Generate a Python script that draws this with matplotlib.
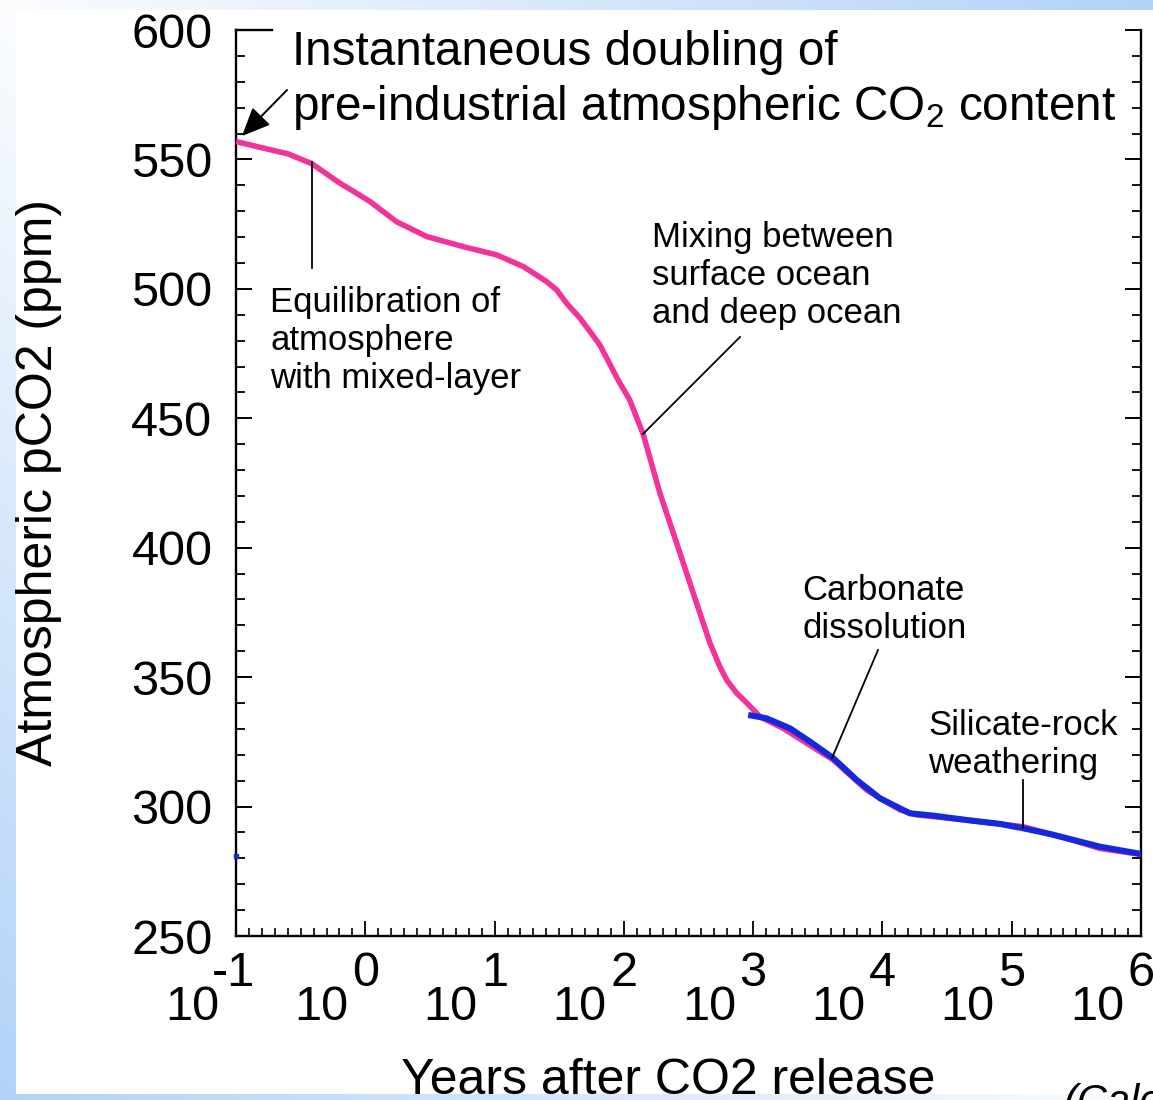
import numpy as np
import matplotlib
matplotlib.use('Agg')
import matplotlib.pyplot as plt
from matplotlib.lines import Line2D
from matplotlib.patches import FancyArrowPatch
from matplotlib.ticker import FixedLocator, NullFormatter, MultipleLocator

plt.rcParams['font.family'] = ['Liberation Sans', 'DejaVu Sans']
plt.rcParams['mathtext.fontset'] = 'custom'
plt.rcParams['mathtext.rm'] = 'Liberation Sans'
plt.rcParams['mathtext.it'] = 'Liberation Sans:italic'

# ---------------- data ----------------
pink_years = [0.1, 0.153, 0.254, 0.385, 0.637, 0.859, 1.09, 1.38, 1.75, 2.99,
              5.73, 10.4, 16.7, 25.3, 30.2, 36.1, 45.8, 65.3, 90.2, 111,
              141, 190, 256, 344, 463, 553, 624, 746, 891, 1130,
              1710, 4170, 7550, 10200, 13700, 18400, 44900, 123000, 266000, 482000,
              1000000]
pink_ppm = [556.9, 554.7, 552.1, 548.4, 540.8, 536.9, 533.7, 529.8, 525.9, 520.2,
            516.3, 513.1, 508.6, 502.8, 499.6, 494.4, 488.7, 478.3, 464.8, 457.1,
            443.9, 421.1, 401.8, 382.5, 363.2, 354.0, 348.9, 343.8, 340.1, 334.7,
            330.2, 318.0, 306.4, 302.5, 298.7, 296.8, 294.8, 292.2, 287.7, 283.8,
            281.5]

blue_years = [916, 1270, 1930, 2750, 4170, 6320, 9570, 16300, 24700, 44900,
              81100, 123000, 198000, 318000, 482000, 1000000]
blue_ppm = [335.4, 334.1, 330.2, 325.1, 318.7, 310.3, 303.2, 297.4, 296.5, 294.8,
            293.3, 291.6, 289.4, 286.8, 284.5, 281.7]

blue_start_years = [0.1]
blue_start_ppm = [280.8]

decades = [-1, 0, 1, 2, 3, 4, 5, 6]
exponent_labels = ['-1', '0', '1', '2', '3', '4', '5', '6']
y_ticks = [250, 300, 350, 400, 450, 500, 550, 600]

title_line1 = 'Instantaneous doubling of'
title_line2 = 'pre-industrial atmospheric CO$_\\mathrm{2}$ content'
note_equil = ['Equilibration of', 'atmosphere', 'with mixed-layer']
note_mixing = ['Mixing between', 'surface ocean', 'and deep ocean']
note_carbonate = ['Carbonate', 'dissolution']
note_silicate = ['Silicate-rock', 'weathering']
x_label = 'Years after CO2 release'
y_label = 'Atmospheric pCO2 (ppm)'
credit = '(Calc'

PINK = '#F2339A'
BLUE = '#1428DC'

W, H = 1153, 1100
fig = plt.figure(figsize=(W / 100, H / 100), dpi=100)
fig.patch.set_facecolor('white')

# background gradient frame
u = np.linspace(0, 1, W)[None, :]
v = np.linspace(0, 1, H)[:, None]
t = np.clip(np.abs(u - v), 0, 1) * 0.95 + 0.05
blue_bg = np.array([178, 210, 248]) / 255.0
img = (1 - t[..., None]) * np.ones(3) + t[..., None] * blue_bg
img[10:1094, 16:, :] = 1.0
fig.figimage(img, 0, 0, zorder=-10, origin='upper')


def fx(x):
    return x / W


def fy(y):
    return 1 - y / H


ax = fig.add_axes([fx(236), fy(936), fx(1141) - fx(236), fy(30) - fy(936)])
ax.set_zorder(1)
ax.set_facecolor('none')
ax.set_xscale('log')
ax.set_xlim(10.0 ** -1, 10.0 ** 6)
ax.set_ylim(250, 600)

ax.plot(pink_years, pink_ppm, color=PINK, lw=4.0, solid_capstyle='butt',
        solid_joinstyle='round', zorder=3)
ax.plot(blue_years, blue_ppm, color=BLUE, lw=4.4, solid_capstyle='butt',
        solid_joinstyle='round', zorder=4)
ax.plot(blue_start_years, blue_start_ppm, ls='none', marker='s', ms=3,
        color=BLUE, zorder=4, clip_on=False)

# ticks
ax.xaxis.set_major_locator(FixedLocator([10.0 ** d for d in decades]))
minor = [10.0 ** (k / 10) for k in range(-10, 61) if k % 10 != 0]
ax.xaxis.set_minor_locator(FixedLocator(minor))
ax.xaxis.set_major_formatter(NullFormatter())
ax.xaxis.set_minor_formatter(NullFormatter())
ax.tick_params(axis='x', which='major', direction='in', length=10.8, width=1.3,
               top=False, bottom=True)
ax.tick_params(axis='x', which='minor', direction='in', length=5.8, width=1.2,
               top=False, bottom=True)

ax.yaxis.set_major_locator(FixedLocator(y_ticks))
ax.yaxis.set_minor_locator(MultipleLocator(10))
ax.set_yticklabels([str(v) for v in y_ticks])
ax.tick_params(axis='y', which='major', direction='in', length=11.5, width=1.4,
               left=True, right=True, labelleft=True, labelright=False,
               labelsize=35, pad=17)
ax.tick_params(axis='y', which='minor', direction='in', length=6.5, width=1.3,
               left=True, right=True)

for s in ['left', 'bottom', 'right', 'top']:
    ax.spines[s].set_linewidth(1.7)
ax.spines['top'].set_bounds(10.0 ** -1, 10.0 ** -0.72)

# x tick labels 10^n drawn as real text
for d, lab in zip(decades, exponent_labels):
    ax.annotate('10', xy=(10.0 ** d, 0), xycoords=('data', 'axes fraction'),
                xytext=(-17, -84), textcoords='offset pixels', ha='right',
                va='baseline', fontsize=35, annotation_clip=False)
    ax.annotate(lab, xy=(10.0 ** d, 0), xycoords=('data', 'axes fraction'),
                xytext=(-2 if d < 0 else 0, -50), textcoords='offset pixels',
                ha='center', va='baseline', fontsize=35, annotation_clip=False)

# axis labels
fig.text(fx(668), fy(1094), x_label, ha='center', va='baseline', fontsize=36)
fig.text(fx(39), fy(482), y_label, ha='center', va='center', rotation=90,
         fontsize=36)
fig.text(fx(1063), fy(1114), credit, ha='left', va='baseline', fontsize=30,
         style='italic')

# headline annotation
fig.text(fx(292), fy(65), title_line1, ha='left', va='baseline', fontsize=34.3)
fig.text(fx(292), fy(120), title_line2, ha='left', va='baseline', fontsize=34.3)
arrow = FancyArrowPatch((fx(289), fy(88)), (fx(240), fy(138)),
                        transform=fig.transFigure,
                        arrowstyle='-|>,head_length=0.5,head_width=0.22',
                        mutation_scale=35, lw=1.4, color='black', zorder=5)
fig.add_artist(arrow)


def note(lines, x, y_first, step=38):
    for i, line in enumerate(lines):
        fig.text(fx(x), fy(y_first + i * step), line, ha='left', va='baseline',
                 fontsize=25, zorder=5)


# process annotations (baseline of first line, pixels)
note(note_equil, 270, 312)
note(note_mixing, 652, 247)
note(note_carbonate, 802, 600)
note(note_silicate, 928, 735)

leaders = [((312, 162), (312, 268)),
           ((740, 337), (643, 434)),
           ((878, 650), (832, 758)),
           ((1023, 780), (1023, 828))]
for (x0, y0), (x1, y1) in leaders:
    fig.add_artist(Line2D([fx(x0), fx(x1)], [fy(y0), fy(y1)],
                          transform=fig.transFigure, color='black', lw=1.3,
                          zorder=5))

fig.savefig('out.png', dpi=100)
